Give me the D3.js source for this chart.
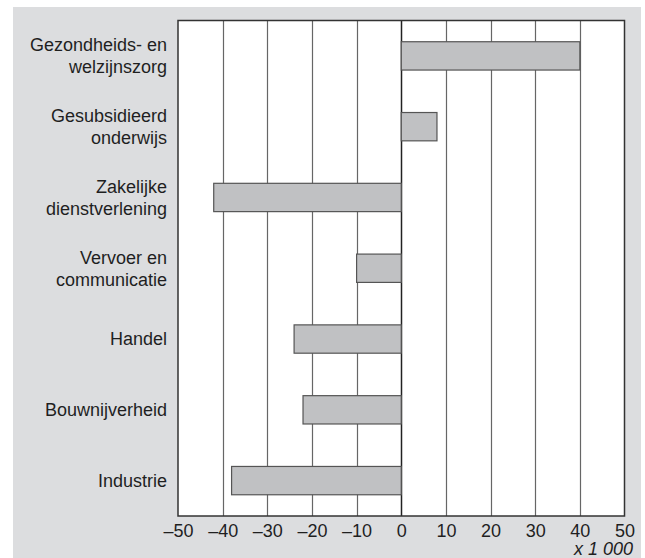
<!DOCTYPE html>
<html><head><meta charset="utf-8">
<script src="https://cdn.jsdelivr.net/npm/d3@7"></script>
<style>body{margin:0;background:#fff}svg{display:block}text{font-family:"Liberation Sans",Arial,sans-serif;fill:#1f1f1f}</style>
</head><body><svg id="c" width="645" height="558"></svg>
<script>
const categories = [
  ["Gezondheids- en","welzijnszorg"],
  ["Gesubsidieerd","onderwijs"],
  ["Zakelijke","dienstverlening"],
  ["Vervoer en","communicatie"],
  ["Handel"],
  ["Bouwnijverheid"],
  ["Industrie"]
];
const values = [40, 8, -42, -10, -24, -22, -38];
const tickValues = [-50,-40,-30,-20,-10,0,10,20,30,40,50];
const unitLabel = "x 1 000";

const FS = 18;
const svg = d3.select("#c");
const L = 178, R = 624.5, T = 20.5, B = 516;
svg.append("rect").attr("x",13).attr("y",7).attr("width",628).attr("height",551).attr("fill","#dcdddf");
svg.append("rect").attr("x",L).attr("y",T).attr("width",R-L).attr("height",B-T).attr("fill","#fff");

const x = d3.scaleLinear().domain([-50,50]).range([L,R]);
const y = d3.scaleBand().domain(d3.range(categories.length)).range([T,B]).paddingInner(0.6).paddingOuter(0.3);

// grid
svg.append("g").selectAll("line").data(tickValues.filter(v=>v>-50&&v<50)).join("line")
  .attr("x1",d=>Math.round(x(d))+0.5).attr("x2",d=>Math.round(x(d))+0.5)
  .attr("y1",T).attr("y2",B)
  .attr("stroke",d=>d===0?"#222":"#666").attr("stroke-width",d=>d===0?1.5:1.2);

// bars
svg.append("g").selectAll("rect").data(values).join("rect")
  .attr("x",d=>x(Math.min(0,d))).attr("width",d=>Math.abs(x(d)-x(0)))
  .attr("y",(d,i)=>y(i)).attr("height",y.bandwidth())
  .attr("fill","#c0c1c3").attr("stroke","#555").attr("stroke-width",1.2);

// border
svg.append("rect").attr("x",L).attr("y",T).attr("width",R-L).attr("height",B-T)
  .attr("fill","none").attr("stroke","#333").attr("stroke-width",1.5);

// category labels
const lab = svg.append("g").selectAll("text").data(categories).join("text")
  .attr("text-anchor","end").attr("font-size",FS)
  .attr("transform",(d,i)=>`translate(167,${y(i)+y.bandwidth()/2})`);
lab.each(function(d){
  const t = d3.select(this), n = d.length, lh = 22;
  d.forEach((s,k)=>t.append("tspan").attr("x",0).attr("y",(k-(n-1)/2)*lh).attr("dy","0.35em").text(s));
});

// axis
const ax = svg.append("g").attr("transform",`translate(0,${B})`)
  .call(d3.axisBottom(x).tickValues(tickValues).tickSize(0).tickPadding(8).tickFormat(d=>d<0?"\u2013"+Math.abs(d):d));
ax.select(".domain").remove();
ax.selectAll("text").attr("font-size",FS).attr("fill","#1f1f1f").attr("font-family","Liberation Sans, Arial, sans-serif").attr("dy","0.71em");
ax.selectAll(".tick").filter(d=>d===50).select("text").attr("dx",0);

svg.append("text").attr("x",633).attr("y",548.5).attr("dy","0.35em").attr("text-anchor","end")
  .attr("font-size",FS).attr("font-style","italic").text(unitLabel);
</script></body></html>
